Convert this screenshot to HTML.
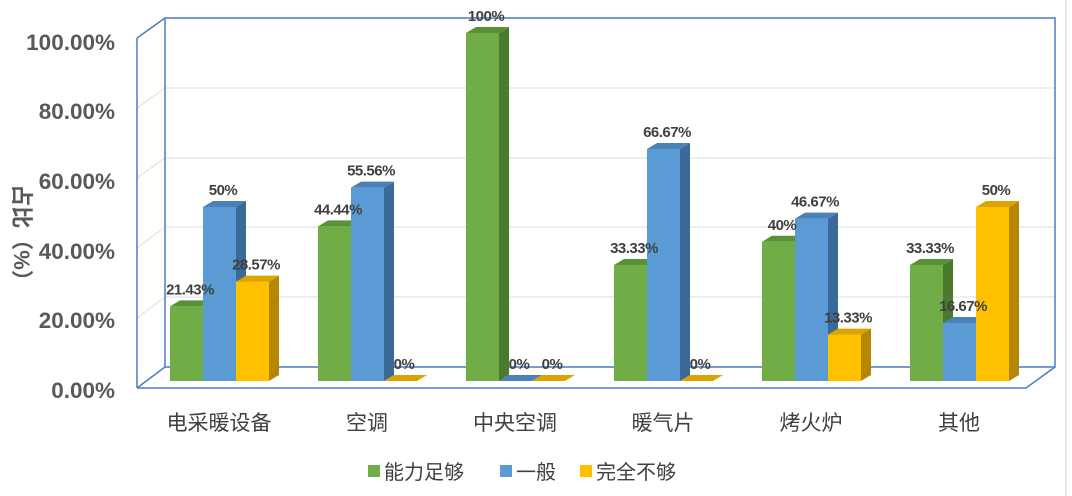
<!DOCTYPE html>
<html><head><meta charset="utf-8"><style>
body{margin:0;background:#fff;}
svg{display:block;font-family:"Liberation Sans","Noto Sans CJK SC",sans-serif;}
</style></head><body>
<svg width="1072" height="496" viewBox="0 0 1072 496">
<line x1="1066" y1="0" x2="1066" y2="496" stroke="#e6e6e6" stroke-width="2"/>
<g stroke="#e3e3e3" stroke-width="1.2" fill="none">
<line x1="165" y1="297" x2="1055" y2="297"/><line x1="137" y1="318" x2="165" y2="297"/>
<line x1="165" y1="227" x2="1055" y2="227"/><line x1="137" y1="248" x2="165" y2="227"/>
<line x1="165" y1="158" x2="1055" y2="158"/><line x1="137" y1="178" x2="165" y2="158"/>
<line x1="165" y1="88" x2="1055" y2="88"/><line x1="137" y1="108" x2="165" y2="88"/>
</g>
<g stroke="#4a7cc4" stroke-width="1.5" fill="none">
<polyline points="137,38 165,18 1055,18 1055,367 165,367 165,18"/>
<line x1="137" y1="38" x2="137" y2="388"/>
<polyline points="137,388 1026,388 1055,367"/>
<line x1="137" y1="388" x2="165" y2="367"/>
</g>
<g font-size="22.5" font-weight="bold" fill="#595959" text-anchor="end">
<text x="115" y="50">100.00%</text><text x="115" y="119">80.00%</text>
<text x="115" y="189">60.00%</text><text x="115" y="259">40.00%</text>
<text x="115" y="328">20.00%</text><text x="115" y="398">0.00%</text>
</g>
<text transform="translate(14,238) rotate(90)" font-size="22" font-weight="bold" fill="#595959" text-anchor="middle">占比（%）</text>
<g id="bars"></g>
<g font-size="21" fill="#404040" text-anchor="middle">
<text x="219" y="430">电采暖设备</text><text x="367" y="430">空调</text>
<text x="515" y="430">中央空调</text><text x="663" y="430">暖气片</text>
<text x="811" y="430">烤火炉</text><text x="959" y="430">其他</text>
</g>
<g font-size="20" fill="#404040">
<rect x="368" y="465" width="12" height="12" fill="#70ad47"/><text x="384" y="479">能力足够</text>
<rect x="500" y="465" width="12" height="12" fill="#5b9bd5"/><text x="516" y="479">一般</text>
<rect x="580" y="465" width="12" height="12" fill="#ffc000"/><text x="596" y="479">完全不够</text>
</g>
</svg>
<script>
var data=[[21.43,50,28.57],[44.44,55.56,0],[100,0,0],[33.33,66.67,0],[40,46.67,13.33],[33.33,16.67,50]];
var lbl=[["21.43%","50%","28.57%"],["44.44%","55.56%","0%"],["100%","0%","0%"],["33.33%","66.67%","0%"],["40%","46.67%","13.33%"],["33.33%","16.67%","50%"]];
var cols=[["#70ad47","#5a9038","#4b7a2e"],["#5b9bd5","#4a82b8","#3b6a99"],["#ffc000","#dba500","#b58700"]];
var s="";
for(var g=0;g<6;g++){for(var k=0;k<3;k++){
var x=170+g*148+k*33,v=data[g][k],t=381-3.48*v,c=cols[k];
s+='<rect x="'+x+'" y="'+t+'" width="33" height="'+(381-t)+'" fill="'+c[0]+'"/>';
s+='<polygon points="'+x+','+t+' '+(x+10)+','+(t-6)+' '+(x+43)+','+(t-6)+' '+(x+33)+','+t+'" fill="'+c[1]+'"/>';
s+='<polygon points="'+(x+33)+','+t+' '+(x+43)+','+(t-6)+' '+(x+43)+',375 '+(x+33)+',381" fill="'+c[2]+'"/>';
}}
for(var g=0;g<6;g++){for(var k=0;k<3;k++){
var x=170+g*148+k*33,v=data[g][k],t=381-3.48*v;
s+='<text x="'+(x+20)+'" y="'+(t-12)+'" font-size="15" font-weight="bold" fill="#404040" text-anchor="middle" letter-spacing="-0.5">'+lbl[g][k]+'</text>';
}}
document.getElementById("bars").innerHTML=s;
</script>
</body></html>
